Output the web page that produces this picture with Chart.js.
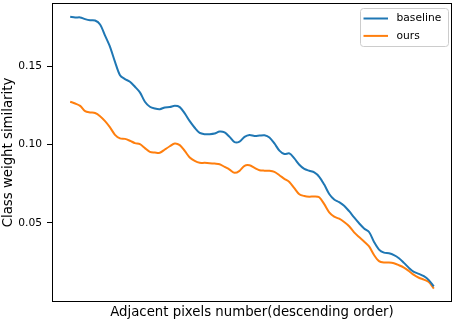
<!DOCTYPE html>
<html>
<head>
<meta charset="utf-8">
<script src="https://cdn.jsdelivr.net/npm/chart.js@4"></script>
<style>
  html, body { margin: 0; padding: 0; background: #fff; }
  #chart { display: block; }
</style>
</head>
<body>
<canvas id="chart" width="457" height="322"></canvas>
<script>
// similarity values, one every ~5px along x
const baseline = [
  0.1817, 0.1812, 0.1813, 0.1802, 0.1795, 0.1793, 0.1768, 0.1697, 0.1625, 0.1529,
  0.1444, 0.1419, 0.1402, 0.1370, 0.1334, 0.1274, 0.1242, 0.1231, 0.1227, 0.1238,
  0.1240, 0.1248, 0.1240, 0.1200, 0.1150, 0.1108, 0.1075, 0.1067, 0.1067, 0.1071,
  0.1084, 0.1078, 0.1050, 0.1016, 0.1020, 0.1050, 0.1062, 0.1056, 0.1058, 0.1060,
  0.1046, 0.1008, 0.0962, 0.0940, 0.0944, 0.0912, 0.0872, 0.0845, 0.0833, 0.0823,
  0.0795, 0.0745, 0.0685, 0.0650, 0.0633, 0.0610, 0.0575, 0.0535, 0.0498, 0.0465,
  0.0442, 0.0379, 0.0330, 0.0310, 0.0306, 0.0295, 0.0275, 0.0245, 0.0213, 0.0187,
  0.0175, 0.0160, 0.0135, 0.0095
];
const ours = [
  0.1274, 0.1263, 0.1248, 0.1214, 0.1206, 0.1202, 0.1182, 0.1150, 0.1110, 0.1063,
  0.1040, 0.1037, 0.1025, 0.1010, 0.1003, 0.0978, 0.0954, 0.0950, 0.0948, 0.0969,
  0.0990, 0.1008, 0.0997, 0.0960, 0.0918, 0.0896, 0.0884, 0.0884, 0.0882, 0.0879,
  0.0875, 0.0858, 0.0841, 0.0820, 0.0833, 0.0865, 0.0868, 0.0852, 0.0837, 0.0834,
  0.0833, 0.0826, 0.0805, 0.0782, 0.0762, 0.0722, 0.0683, 0.0672, 0.0668, 0.0669,
  0.0664, 0.0620, 0.0568, 0.0540, 0.0527, 0.0506, 0.0479, 0.0440, 0.0410, 0.0382,
  0.0350, 0.0295, 0.0256, 0.0247, 0.0247, 0.0242, 0.0230, 0.0215, 0.0193, 0.0168,
  0.0150, 0.0138, 0.0123, 0.0080
];
const yTicks = [0.05, 0.10, 0.15];
const seriesNames = ["baseline", "ours"];
const colors = ["#1f77b4", "#ff7f0e"];

const ranks = baseline.map((_, i) => i);
const last = ranks.length - 1;
const FONT = "'DejaVu Sans', sans-serif";

// matplotlib-like frame round the plot area
const framePlugin = {
  id: "frame",
  afterDatasetsDraw(chart) {
    const { ctx, chartArea: a } = chart;
    ctx.save();
    ctx.strokeStyle = "#000";
    ctx.lineWidth = 1;
    ctx.strokeRect(Math.round(a.left) + 0.5, Math.round(a.top) + 0.5,
      Math.round(a.right - a.left) - 1, Math.round(a.bottom - a.top) - 1);
    ctx.restore();
  }
};

// legend box in the upper right corner, inside the axes
const insideLegend = {
  id: "insideLegend",
  afterDraw(chart) {
    const { ctx, chartArea: a } = chart;
    const x = a.right - 92, y = a.top + 5, w = 88, h = 38;
    ctx.save();
    ctx.beginPath();
    ctx.roundRect(x + 0.5, y + 0.5, w, h, 3);
    ctx.fillStyle = "rgba(255,255,255,0.8)";
    ctx.fill();
    ctx.strokeStyle = "#cccccc";
    ctx.lineWidth = 1;
    ctx.stroke();
    ctx.font = "10.7px " + FONT;
    ctx.textBaseline = "middle";
    ctx.fillStyle = "#000";
    chart.data.datasets.forEach((ds, i) => {
      const ly = y + 10.5 + i * 17.4;
      ctx.beginPath();
      ctx.moveTo(x + 3.5, ly);
      ctx.lineTo(x + 28, ly);
      ctx.strokeStyle = ds.borderColor;
      ctx.lineWidth = 2;
      ctx.stroke();
      ctx.fillText(ds.label, x + 36.5, ly);
    });
    ctx.restore();
  }
};

new Chart(document.getElementById("chart"), {
  type: "line",
  data: {
    labels: ranks,
    datasets: [
      { label: seriesNames[0], data: baseline, borderColor: colors[0] },
      { label: seriesNames[1], data: ours, borderColor: colors[1] }
    ]
  },
  options: {
    responsive: false,
    animation: false,
    devicePixelRatio: 1,
    layout: { padding: { top: 3, right: 5, left: 0, bottom: 0 } },
    elements: {
      line: { borderWidth: 2, tension: 0.3, fill: false },
      point: { radius: 0 }
    },
    plugins: { legend: { display: false }, tooltip: { enabled: false } },
    scales: {
      x: {
        type: "linear",
        min: -0.05 * last,
        max: last * 1.05,
        ticks: { display: false },
        grid: { display: false },
        border: { display: false },
        title: {
          display: true,
          text: "Adjacent pixels number(descending order)",
          color: "#000",
          font: { family: FONT, size: 13.3 },
          padding: { top: 0, bottom: 1 }
        },
        afterFit(scale) {
          scale.height = 20;
          scale.paddingLeft = 0;
          scale.paddingRight = 0;
        }
      },
      y: {
        min: -0.0005,
        max: 0.1905,
        afterBuildTicks(scale) { scale.ticks = yTicks.map(v => ({ value: v })); },
        ticks: {
          color: "#000",
          padding: 5,
          font: { family: FONT, size: 10.7 },
          callback: v => v.toFixed(2)
        },
        grid: { drawOnChartArea: false, drawTicks: true, tickLength: 5, color: "#000" },
        border: { display: false },
        title: {
          display: true,
          text: "Class weight similarity",
          color: "#000",
          font: { family: FONT, size: 13.3 },
          padding: { top: 1, bottom: 0 }
        },
        afterFit(scale) {
          scale.width = 52;
          scale.paddingTop = 0;
          scale.paddingBottom = 0;
        }
      }
    }
  },
  plugins: [framePlugin, insideLegend]
});
</script>
</body>
</html>
